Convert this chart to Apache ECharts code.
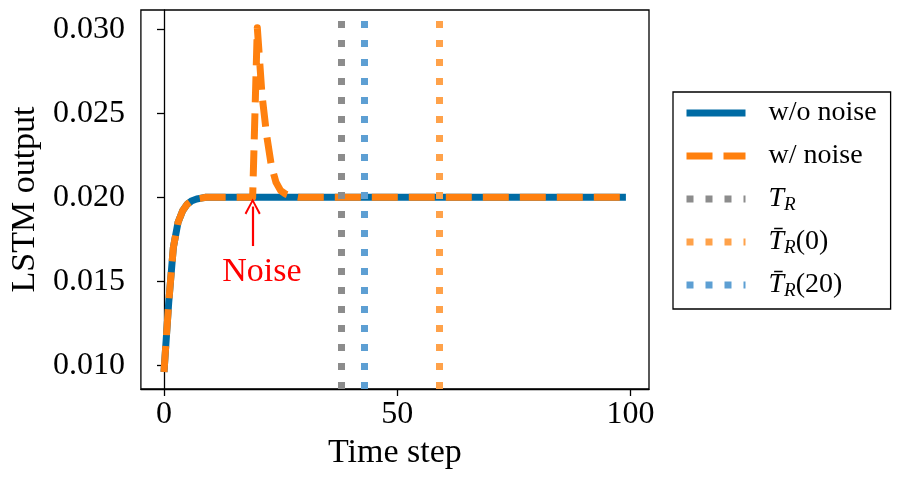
<!DOCTYPE html>
<html>
<head>
<meta charset="utf-8">
<script src="https://cdn.jsdelivr.net/npm/echarts@6/dist/echarts.min.js"></script>
<style>
html,body{margin:0;padding:0;background:#fff;}
#chart{width:897px;height:481px;}
</style>
</head>
<body>
<div id="chart"></div>
<script>
// ---- data ----
const timeSteps = Array.from({length: 100}, (_, i) => i);
const woNoise = [
  0.0096, 0.0137, 0.0170, 0.0185, 0.0192, 0.0196, 0.0198, 0.0199, 0.01995, 0.0200,
  0.0200, 0.0200, 0.0200, 0.0200, 0.0200, 0.0200, 0.0200, 0.0200, 0.0200, 0.0200,
  0.0200, 0.0200, 0.0200, 0.0200, 0.0200, 0.0200, 0.0200, 0.0200, 0.0200, 0.0200,
  0.0200, 0.0200, 0.0200, 0.0200, 0.0200, 0.0200, 0.0200, 0.0200, 0.0200, 0.0200,
  0.0200, 0.0200, 0.0200, 0.0200, 0.0200, 0.0200, 0.0200, 0.0200, 0.0200, 0.0200,
  0.0200, 0.0200, 0.0200, 0.0200, 0.0200, 0.0200, 0.0200, 0.0200, 0.0200, 0.0200,
  0.0200, 0.0200, 0.0200, 0.0200, 0.0200, 0.0200, 0.0200, 0.0200, 0.0200, 0.0200,
  0.0200, 0.0200, 0.0200, 0.0200, 0.0200, 0.0200, 0.0200, 0.0200, 0.0200, 0.0200,
  0.0200, 0.0200, 0.0200, 0.0200, 0.0200, 0.0200, 0.0200, 0.0200, 0.0200, 0.0200,
  0.0200, 0.0200, 0.0200, 0.0200, 0.0200, 0.0200, 0.0200, 0.0200, 0.0200, 0.0200
];
const wNoise = [
  0.0096, 0.0137, 0.0170, 0.0185, 0.0192, 0.0196, 0.0198, 0.0199, 0.01995, 0.0200,
  0.0200, 0.0200, 0.0200, 0.0200, 0.0200, 0.0200, 0.0200, 0.0200, 0.0200, 0.0200,
  0.0301, 0.0261, 0.0237, 0.0219, 0.0209, 0.0204, 0.0202, 0.0201, 0.02005, 0.0200,
  0.0200, 0.0200, 0.0200, 0.0200, 0.0200, 0.0200, 0.0200, 0.0200, 0.0200, 0.0200,
  0.0200, 0.0200, 0.0200, 0.0200, 0.0200, 0.0200, 0.0200, 0.0200, 0.0200, 0.0200,
  0.0200, 0.0200, 0.0200, 0.0200, 0.0200, 0.0200, 0.0200, 0.0200, 0.0200, 0.0200,
  0.0200, 0.0200, 0.0200, 0.0200, 0.0200, 0.0200, 0.0200, 0.0200, 0.0200, 0.0200,
  0.0200, 0.0200, 0.0200, 0.0200, 0.0200, 0.0200, 0.0200, 0.0200, 0.0200, 0.0200,
  0.0200, 0.0200, 0.0200, 0.0200, 0.0200, 0.0200, 0.0200, 0.0200, 0.0200, 0.0200,
  0.0200, 0.0200, 0.0200, 0.0200, 0.0200, 0.0200, 0.0200, 0.0200, 0.0200, 0.0200
];
const seriesNames = ['w/o noise', 'w/ noise', 'T_R', 'Tbar_R(0)', 'Tbar_R(20)'];
const vlineX = {'T_R': 38, 'Tbar_R(0)': 59, 'Tbar_R(20)': 43};
const noiseStep = 19;
const noiseArrow = [0.0171, 0.01945];
const noiseLabelPos = [21, 0.01554];
const xTicks = [0, 50, 100];
const yTicks = [0.010, 0.015, 0.020, 0.025, 0.030];
const xRange = [-4.95, 103.95];
const yRange = [0.00859, 0.03115];

// ---- styles ----
const FONT = 'Liberation Serif';
const colors = {
  'w/o noise': '#006BA4',
  'w/ noise': '#FF800E',
  'T_R': '#8C8C8C',
  'Tbar_R(0)': '#FFA24A',
  'Tbar_R(20)': '#5D9FD3'
};
const solidStyle = {width: 7, type: 'solid', cap: 'butt'};
const dashedStyle = {width: 7, type: [26, 11], cap: 'butt'};
const dotted = {width: 7, type: [7, 12], cap: 'butt'};
const legendStyles = {
  'w/o noise': solidStyle,
  'w/ noise': dashedStyle,
  'T_R': dotted,
  'Tbar_R(0)': dotted,
  'Tbar_R(20)': dotted
};

function zip(xs, ys) { return xs.map((x, i) => [x, ys[i]]); }

function vlineSeries(name) {
  return {
    name: name,
    type: 'line',
    symbol: 'none',
    data: [],
    z: 4,
    color: colors[name],
    lineStyle: {color: colors[name], width: dotted.width, type: dotted.type, cap: dotted.cap},
    markLine: {
      silent: true,
      symbol: 'none',
      animation: false,
      label: {show: false},
      lineStyle: {color: colors[name], width: dotted.width, type: dotted.type, cap: dotted.cap, opacity: 1},
      emphasis: {disabled: true},
      data: [{xAxis: vlineX[name]}]
    }
  };
}

const chart = echarts.init(document.getElementById('chart'), null, {renderer: 'canvas'});
chart.setOption({
  animation: false,
  backgroundColor: '#fff',
  grid: {left: 138, top: 10, width: 511, height: 379, show: true, borderColor: '#000', borderWidth: 1.3, backgroundColor: 'transparent'},
  xAxis: {
    type: 'value',
    min: xRange[0], max: xRange[1],
    name: 'Time step', nameLocation: 'middle', nameGap: 44,
    nameTextStyle: {fontFamily: FONT, fontSize: 34, color: '#000'},
    axisLine: {show: true, lineStyle: {color: '#000', width: 1.3}},
    axisTick: {show: true, length: 7, lineStyle: {color: '#000', width: 1.3}, customValues: xTicks},
    axisLabel: {customValues: xTicks, fontFamily: FONT, fontSize: 32, color: '#000', margin: 10, formatter: v => String(v)},
    splitLine: {show: false}
  },
  yAxis: {
    type: 'value',
    min: yRange[0], max: yRange[1],
    name: 'LSTM output', nameLocation: 'middle', nameGap: 97,
    nameTextStyle: {fontFamily: FONT, fontSize: 34, color: '#000'},
    axisLine: {show: true, lineStyle: {color: '#000', width: 1.3}},
    axisTick: {show: true, length: 7, lineStyle: {color: '#000', width: 1.3}, customValues: yTicks},
    axisLabel: {customValues: yTicks, fontFamily: FONT, fontSize: 32, color: '#000', margin: 16, formatter: v => v.toFixed(3)},
    splitLine: {show: false}
  },
  legend: {
    orient: 'vertical',
    left: 673, top: 92,
    itemWidth: 59, itemHeight: 14, itemGap: 13,
    padding: [6, 14, 9, 10],
    borderColor: '#000', borderWidth: 1.3, borderRadius: 0,
    backgroundColor: '#fff',
    selectedMode: false,
    itemStyle: {opacity: 0},
    data: seriesNames.map(n => ({
      name: n,
      itemStyle: {opacity: 0},
      lineStyle: {color: colors[n], width: legendStyles[n].width, type: legendStyles[n].type, cap: 'butt', opacity: 1}
    })),
    formatter: function (name) {
      if (name === 'T_R') return '{i|T}{s|R}';
      if (name === 'Tbar_R(0)') return '{i|T\u0304}{s|R}{n|(0)}';
      if (name === 'Tbar_R(20)') return '{i|T\u0304}{s|R}{n|(20)}';
      return '{n|' + name + '}';
    },
    textStyle: {
      fontFamily: FONT, fontSize: 28, color: '#000', lineHeight: 30, padding: [0, 0, 0, 18],
      rich: {
        n: {fontFamily: FONT, fontSize: 28, color: '#000', lineHeight: 30},
        i: {fontFamily: FONT, fontSize: 28, color: '#000', fontStyle: 'italic', lineHeight: 30},
        s: {fontFamily: FONT, fontSize: 19, color: '#000', fontStyle: 'italic', lineHeight: 18, verticalAlign: 'bottom'}
      }
    }
  },
  series: [
    {
      name: 'w/o noise', type: 'line', symbol: 'none', z: 2,
      data: zip(timeSteps, woNoise),
      color: colors['w/o noise'],
      lineStyle: {color: colors['w/o noise'], width: 7, join: 'round'}
    },
    {
      name: 'w/ noise', type: 'line', symbol: 'none', z: 3,
      data: zip(timeSteps, wNoise),
      color: colors['w/ noise'],
      lineStyle: {color: colors['w/ noise'], width: 7, type: [26, 11], cap: 'butt', join: 'round'},
      markLine: {
        silent: true, animation: false,
        symbol: ['none', 'path://M0,14 L8,0 L16,14 L14.3,15.2 L8,3.6 L1.7,15.2 Z'],
        symbolSize: 16,
        label: {show: false},
        lineStyle: {color: '#FF0000', width: 2.2, type: 'solid', opacity: 1},
        itemStyle: {color: '#FF0000'},
        emphasis: {disabled: true},
        data: [[{coord: [noiseStep, noiseArrow[0]]}, {coord: [noiseStep, noiseArrow[1]]}]]
      },
      markPoint: {
        silent: true, animation: false,
        symbol: 'circle', symbolSize: 1,
        itemStyle: {color: 'transparent'},
        label: {show: true, position: 'inside', formatter: 'Noise', fontFamily: FONT, fontSize: 34, color: '#FF0000'},
        data: [{coord: noiseLabelPos}]
      }
    },
    vlineSeries('T_R'),
    vlineSeries('Tbar_R(0)'),
    vlineSeries('Tbar_R(20)')
  ]
});
</script>
</body>
</html>
